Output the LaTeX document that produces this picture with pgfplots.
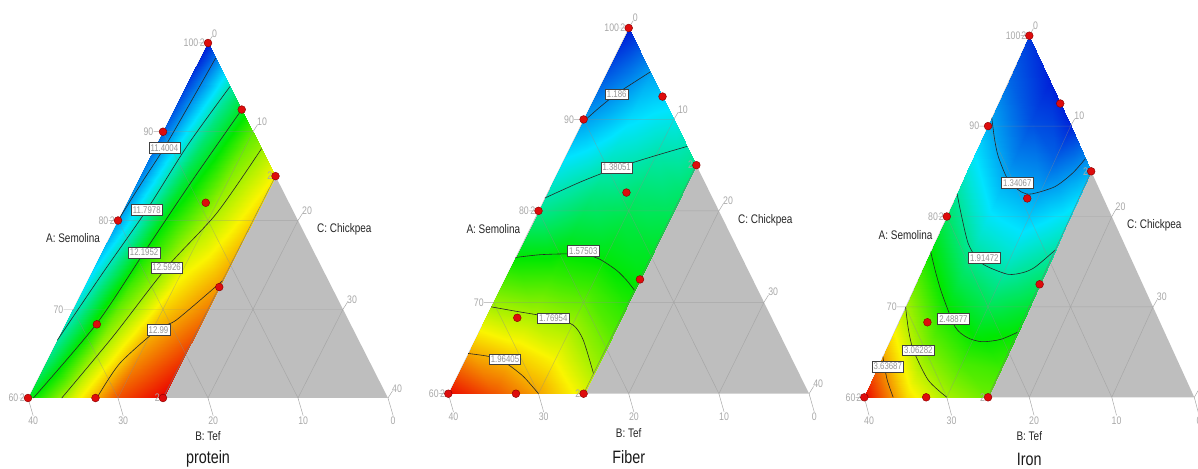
\documentclass[border=0pt]{standalone}
\usepackage{pgfplots}
\pgfplotsset{compat=1.18}
\usepackage{pgfplotstable}
\usepackage{fontspec}
\setmainfont[FakeStretch=0.8]{Liberation Sans}

\definecolor{trigray}{RGB}{190,190,190}
\definecolor{dotred}{RGB}{222,12,12}
\definecolor{dotedge}{RGB}{140,0,0}
\definecolor{tickc}{RGB}{168,168,168}

\pgfplotsset{
  colormap={de}{rgb255=(0,25,215) rgb255=(0,228,255) rgb255=(0,232,0) rgb255=(250,245,0) rgb255=(236,0,0)},
  tern/.style={scale only axis, hide axis, xmin=-40, xmax=40, ymin=60, ymax=100,
    clip=false, anchor=south west, colormap name=de},
  contc/.style={black!85, line width=0.6pt, smooth, tension=0.45},
}
\tikzset{
  clab/.style={fill=white, draw=black!75, line width=0.5pt, inner xsep=1.6pt, inner ysep=1.9pt,
    text=black!42, font=\fontsize{9.8}{10}\selectfont},
  tlab/.style={text=tickc, font=\fontsize{11}{12}\selectfont, inner sep=0pt},
  atit/.style={text=black!85, font=\fontsize{12.5}{14}\selectfont},
}

% grid nodes: columns x y f ; rows C=0,5,10,15 ; 9 points each
\pgfplotstableread{
x y f
-40 60 12.13
-35 65 11.88
-30 70 11.70
-25 75 11.55
-20 80 11.40
-15 85 11.31
-10 90 11.23
-5 95 11.12
0 100 11.00
-30 60 12.72
-25.625 64.375 12.59
-21.25 68.75 12.47
-16.875 73.125 12.34
-12.5 77.5 12.21
-8.125 81.875 12.11
-3.75 86.25 12.00
0.625 90.625 11.90
5 95 11.80
-20 60 13.20
-16.25 63.75 13.07
-12.5 67.5 12.95
-8.75 71.25 12.84
-5 75 12.74
-1.25 78.75 12.63
2.5 82.5 12.55
6.25 86.25 12.49
10 90 12.42
-10 60 13.39
-6.875 63.125 13.29
-3.75 66.25 13.20
-0.625 69.375 13.10
2.5 72.5 13.01
5.625 75.625 12.95
8.75 78.75 12.90
11.875 81.875 12.85
15 85 12.80
}\protdata

\pgfplotstableread{
x y f
-40 60 2.15
-35 65 1.94
-30 70 1.75
-25 75 1.57
-20 80 1.41
-15 85 1.30
-10 90 1.18
-5 95 1.08
0 100 0.99
-30 60 2.06
-25.625 64.375 1.91
-21.25 68.75 1.765
-16.875 73.125 1.63
-12.5 77.5 1.52
-8.125 81.875 1.43
-3.75 86.25 1.34
0.625 90.625 1.26
5 95 1.19
-20 60 1.964
-16.25 63.75 1.863
-12.5 67.5 1.762
-8.75 71.25 1.655
-5 75 1.56
-1.25 78.75 1.50
2.5 82.5 1.44
6.25 86.25 1.38
10 90 1.31
-10 60 1.84
-6.875 63.125 1.75
-3.75 66.25 1.68
-0.625 69.375 1.62
2.5 72.5 1.56
5.625 75.625 1.53
8.75 78.75 1.49
11.875 81.875 1.455
15 85 1.42
}\fibdata

\pgfplotstableread{
x y f
-40 60 4.21
-35 65 3.58
-30 70 3.06
-25 75 2.59
-20 80 2.155
-15 85 1.76
-10 90 1.40
-5 95 1.10
0 100 0.90
-30 60 3.45
-25.625 64.375 2.99
-21.25 68.75 2.61
-16.875 73.125 2.21
-12.5 77.5 1.84
-8.125 81.875 1.53
-3.75 86.25 1.22
0.625 90.625 0.98
5 95 0.80
-20 60 3.06
-16.25 63.75 2.73
-12.5 67.5 2.42
-8.75 71.25 2.12
-5 75 1.84
-1.25 78.75 1.60
2.5 82.5 1.36
6.25 86.25 1.08
10 90 0.82
-10 60 2.85
-6.875 63.125 2.70
-3.75 66.25 2.55
-0.625 69.375 2.36
2.5 72.5 2.16
5.625 75.625 1.96
8.75 78.75 1.77
11.875 81.875 1.59
15 85 1.40
}\irondata

\newcommand{\ternback}{%
  \addplot[draw=none, fill=trigray] coordinates {(-40,60) (40,60) (0,100) (-40,60)};
}
\newcommand{\terngrid}{%
  \addplot[black!45, line width=0.5pt, opacity=0.45, unbounded coords=jump] coordinates {
    (-30,70) (30,70) (nan,nan) (-20,80) (20,80) (nan,nan) (-10,90) (10,90) (nan,nan)
    (-10,90) (20,60) (nan,nan) (-20,80) (0,60) (nan,nan) (-30,70) (-20,60) (nan,nan)
    (10,90) (-20,60) (nan,nan) (20,80) (0,60) (nan,nan) (30,70) (20,60)};
  \addplot[tickc, line width=0.5pt, unbounded coords=jump] coordinates {
    (-40,60) (-42.1,60) (nan,nan) (-30,70) (-32.1,70) (nan,nan) (-20,80) (-22.1,80) (nan,nan)
    (-10,90) (-12.1,90) (nan,nan) (0,100) (-2.1,100) (nan,nan)
    (0,100) (1,100.8) (nan,nan) (10,90) (11,90.8) (nan,nan) (20,80) (21,80.8) (nan,nan)
    (30,70) (31,70.8) (nan,nan) (40,60) (41,60.8) (nan,nan)
    (-40,60) (-38.85,58) (nan,nan) (-20,60) (-18.85,58) (nan,nan) (0,60) (1.15,58) (nan,nan)
    (20,60) (21.15,58) (nan,nan) (40,60) (41.15,58)};
}
\newcommand{\ternfront}[1]{%
  \addplot[black!55, line width=0.4pt] coordinates {(-10,60) (15,85)};
  \addplot[only marks, mark=*, mark size=3.9pt, mark options={fill=dotred, draw=dotedge, line width=0.45pt}]
    coordinates {(0,100) (7.5,92.5) (-10,90) (15,85) (-0.5,82) (-20,80) (2.5,72.5) (-24.7,68.3) (-40,60) (-25,60) (-10,60)};
  % replicate counts
  \node[tlab, anchor=east] at (axis cs:-0.7,100) {2};
  \node[tlab, anchor=east] at (axis cs:-20.7,80) {2};
  \node[tlab, anchor=east] at (axis cs:-40.7,60) {2};
  \node[tlab, anchor=east] at (axis cs:14.3,85) {2};
  \node[tlab, anchor=east] at (axis cs:-10.7,60) {2};
  % A ticks
  \node[tlab, anchor=east] at (axis cs:-42.1,60) {60};
  \node[tlab, anchor=east] at (axis cs:-32.1,70) {70};
  \node[tlab, anchor=east] at (axis cs:-22.1,80) {80};
  \node[tlab, anchor=east] at (axis cs:-12.1,90) {90};
  \node[tlab, anchor=east] at (axis cs:-2.1,100) {100};
  % C ticks
  \node[tlab, anchor=west] at (axis cs:0.9,101.1) {0};
  \node[tlab, anchor=west] at (axis cs:10.9,91.1) {10};
  \node[tlab, anchor=west] at (axis cs:20.9,81.1) {20};
  \node[tlab, anchor=west] at (axis cs:30.9,71.1) {30};
  \node[tlab, anchor=west] at (axis cs:40.9,61.1) {40};
  % B ticks
  \node[tlab, anchor=north] at (axis cs:-38.85,57.9) {40};
  \node[tlab, anchor=north] at (axis cs:-18.85,57.9) {30};
  \node[tlab, anchor=north] at (axis cs:1.15,57.9) {20};
  \node[tlab, anchor=north] at (axis cs:21.15,57.9) {10};
  \node[tlab, anchor=north] at (axis cs:41.15,57.9) {0};
  % axis titles
  \node[atit] at (axis cs:-30,78) {A: Semolina};
  \node[atit] at (axis cs:30.3,79) {C: Chickpea};
  \node[atit] at (axis cs:0,55.7) {B: Tef};
  \node[text=black!90, font=\fontsize{18}{20}\selectfont] at (axis cs:0,53.1) {#1};
}

\begin{document}
\begin{tikzpicture}
\useasboundingbox (0bp,0bp) rectangle (1198bp,469bp);

% ---------------- protein ----------------
\begin{axis}[tern, at={(28bp,71bp)}, width=360bp, height=355bp,
  point meta min=11.003, point meta max=13.387]
\ternback
\addplot[surf, shader=interp, mesh/rows=4, mesh/cols=9, point meta=\thisrow{f}] table[x=x, y=y] {\protdata};
\terngrid
\addplot[contc] coordinates {(1.7,98.3) (-4,93.2) (-9.7,88.2) (-14.8,84.2) (-20,80)};
\addplot[contc] coordinates {(4.9,95.1) (-4.5,88.5) (-13.6,81.2) (-23.5,74) (-33.5,66.5)};
\addplot[contc] coordinates {(7.5,92.5) (-3.5,84.5) (-14.2,76.4) (-24.7,68.4) (-38.8,60)};
\addplot[contc] coordinates {(11.9,88.1) (1.9,80.8) (-9.2,74.7) (-21,67) (-32.5,60)};
\addplot[contc] coordinates {(3.2,73.2) (-7,68.8) (-11,67.8) (-19.6,63.9) (-24.7,60)};
\ternfront{protein}
\node[clab] at (axis cs:-9.7,88.2) {11.4004};
\node[clab] at (axis cs:-13.6,81.2) {11.7978};
\node[clab] at (axis cs:-14.2,76.4) {12.1952};
\node[clab] at (axis cs:-9.2,74.7) {12.5926};
\node[clab] at (axis cs:-11,67.7) {12.99};
\end{axis}

% ---------------- Fiber ----------------
\begin{axis}[tern, at={(448.3bp,75.3bp)}, width=360.8bp, height=365.7bp,
  point meta min=0.9915, point meta max=2.1586]
\ternback
\addplot[surf, shader=interp, mesh/rows=4, mesh/cols=9, point meta=\thisrow{f}] table[x=x, y=y] {\fibdata};
\terngrid
\addplot[contc] coordinates {(-10.4,89.6) (-6.5,91.3) (-2.7,92.8) (1,94) (4.8,95.2)};
\addplot[contc] coordinates {(-18.6,81.4) (-10.5,83.2) (-2.7,84.7) (5,85.9) (12.95,87.05)};
\addplot[contc] coordinates {(-25.1,74.9) (-19.7,75.2) (-13.75,75.3) (-10,75.3) (-6.4,74.7) (-2.7,73.5) (-0.45,72.4) (1.3,71.3)};
\addplot[contc] coordinates {(-30.5,69.5) (-24.8,69.0) (-16.7,68.3) (-12.3,67.5) (-10.1,65.9) (-7.8,62.2)};
\addplot[contc] coordinates {(-35.6,64.4) (-30.75,64.05) (-27.4,63.4) (-23.4,61.9) (-20,60)};
\ternfront{Fiber}
\node[clab] at (axis cs:-2.66,92.76) {1.186};
\node[clab] at (axis cs:-2.66,84.73) {1.38051};
\node[clab] at (axis cs:-10.07,75.6) {1.57503};
\node[clab] at (axis cs:-16.72,68.25) {1.76954};
\node[clab] at (axis cs:-27.43,63.76) {1.96405};
\end{axis}

% ---------------- Iron ----------------
\begin{axis}[tern, at={(864.3bp,71.7bp)}, width=330bp, height=361.6bp,
  point meta min=0.7666, point meta max=4.2109]
\ternback
\addplot[surf, shader=interp, mesh/rows=4, mesh/cols=9, point meta=\thisrow{f}] table[x=x, y=y] {\irondata};
\terngrid
\addplot[contc] coordinates {(-9.1,90.9) (-8.4,88.5) (-7.5,86.6) (-5.1,84.0) (-1.85,82.7) (0.6,82.5) (6.2,83.3) (10.5,84.8) (13.6,86.4)};
\addplot[contc] coordinates {(-17.5,82.5) (-16.4,80) (-14.8,77.0) (-12.5,75.2) (-9.9,74.4) (-5.1,73.6) (-1.5,73.8) (1.4,74.4) (6.3,76.3)};
\addplot[contc] coordinates {(-23.9,76.1) (-22.8,74) (-21.2,71.5) (-18.0,67.8) (-15,66.6) (-11.5,66.15) (-7,66.4) (-2.8,67.2)};
\addplot[contc] coordinates {(-30.0,70.0) (-29.3,67.5) (-28.1,65.2) (-24.5,61.9) (-20.0,60)};
\addplot[contc] coordinates {(-35.5,64.5) (-34.5,62) (-33,60)};
\ternfront{Iron}
\node[clab] at (axis cs:-2.91,83.74) {1.34067};
\node[clab] at (axis cs:-10.9,75.4) {1.91472};
\node[clab] at (axis cs:-18.4,68.7) {2.48877};
\node[clab] at (axis cs:-26.9,65.2) {3.06282};
\node[clab] at (axis cs:-34.3,63.4) {3.63687};
\end{axis}
\end{tikzpicture}
\end{document}
